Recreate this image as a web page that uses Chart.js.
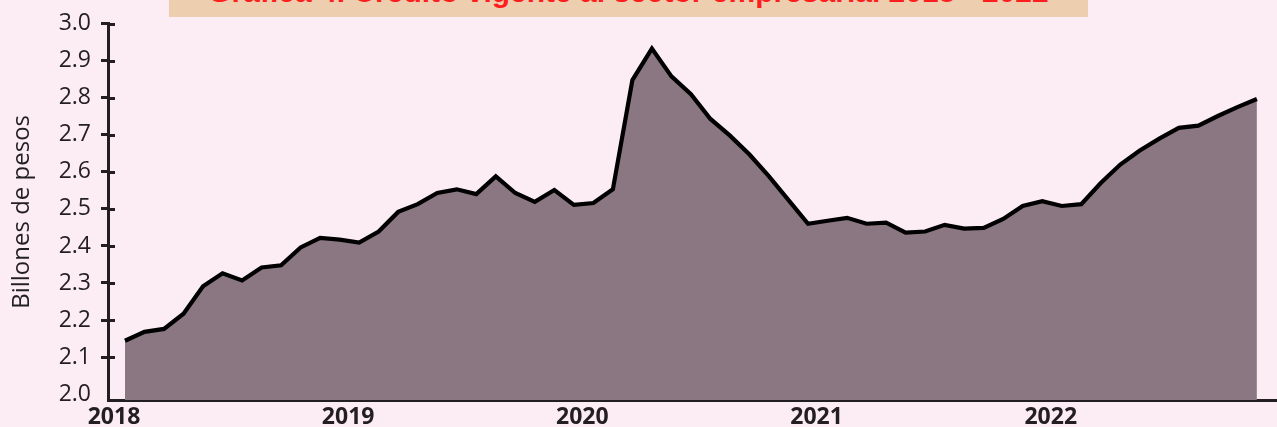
<!DOCTYPE html>
<html lang="es">
<head>
<meta charset="utf-8">
<title>Crédito vigente al sector empresarial 2018 - 2022</title>
<script src="https://cdn.jsdelivr.net/npm/chart.js@4/dist/chart.umd.min.js"></script>
<style>
  html, body { margin: 0; padding: 0; background: #fcedf4; overflow: hidden; }
  #wrap { position: relative; width: 1277px; height: 427px; overflow: hidden; background: #fcedf4; }
  #titleBox { position: absolute; left: 169px; top: 0; width: 919px; height: 17px; background: #edcfb0; }
  #title { position: absolute; left: 169px; top: -25px; width: 919px; height: 30px; line-height: 30px;
           font: bold 30px "Liberation Sans", Arial, sans-serif; color: #fe1e1e; text-align: center; white-space: nowrap; }
  #c { position: absolute; left: 0; top: 0; }
</style>
</head>
<body>
<div id="wrap">
  <div id="titleBox"></div>
  <div id="title">Gráfica 4. Crédito vigente al sector empresarial 2018 - 2022</div>
  <canvas id="c" width="1277" height="440"></canvas>
</div>
<script>
// ---- data (billones de pesos), monthly from January 2018 ----
const years = ['2018', '2019', '2020', '2021', '2022'];
const credit = [
  2.144, 2.168, 2.176, 2.217, 2.291, 2.326, 2.307, 2.342, 2.348, 2.396, 2.422, 2.417,
  2.409, 2.439, 2.492, 2.513, 2.543, 2.553, 2.540, 2.588, 2.543, 2.519, 2.551, 2.511,
  2.516, 2.553, 2.848, 2.933, 2.858, 2.810, 2.743, 2.698, 2.647, 2.588, 2.524, 2.460,
  2.468, 2.476, 2.460, 2.463, 2.436, 2.439, 2.457, 2.447, 2.449, 2.473, 2.508, 2.521,
  2.508, 2.513, 2.570, 2.620, 2.658, 2.690, 2.719, 2.725, 2.751, 2.775, 2.797
];
const monthCodes = ['01','02','03','04','05','06','07','08','09','10','11','12'];
const months = years.flatMap(y => monthCodes.map(m => y + '-' + m)).slice(0, credit.length);
const yTickValues = [2.0, 2.1, 2.2, 2.3, 2.4, 2.5, 2.6, 2.7, 2.8, 2.9, 3.0];

const DARK = '#231f20';

const innerTicks = {
  id: 'innerTicks',
  afterDraw(chart) {
    const ys = chart.scales.y;
    const ctx = chart.ctx;
    ctx.save();
    ctx.strokeStyle = DARK;
    ctx.lineWidth = 3;
    ys.ticks.forEach(t => {
      if (t.value < 2.05) return;
      const py = Math.round(ys.getPixelForValue(t.value)) + 0.5;
      ctx.beginPath();
      ctx.moveTo(ys.right, py);
      ctx.lineTo(ys.right + 7, py);
      ctx.stroke();
    });
    ctx.restore();
  }
};

new Chart(document.getElementById('c'), {
  type: 'line',
  data: {
    datasets: [{
      label: 'Crédito vigente',
      data: credit.map((v, i) => ({ x: i, y: v })),
      borderColor: '#000000',
      borderWidth: 4.2,
      borderJoinStyle: 'miter',
      backgroundColor: '#8a7781',
      fill: 'start',
      pointRadius: 0,
      tension: 0
    }]
  },
  options: {
    responsive: false,
    animation: false,
    layout: { padding: { top: 20, left: 0, right: 0, bottom: 0 } },
    plugins: { legend: { display: false }, tooltip: { enabled: false }, title: { display: false } },
    scales: {
      x: {
        type: 'linear',
        min: -0.87,
        max: 59.03,
        afterBuildTicks(axis) {
          axis.ticks = months.map((m, i) => ({ value: i, m })).filter(t => t.m.endsWith('-01')).map(t => ({ value: t.value }));
        },
        afterFit(axis) { axis.height = 40; },
        grid: { display: true, drawOnChartArea: false, drawTicks: false },
        border: { display: true, color: DARK, width: 3 },
        ticks: {
          autoSkip: false,
          maxRotation: 0,
          padding: 4,
          labelOffset: -11,
          color: DARK,
          font: { family: '"Open Sans", sans-serif', size: 23, weight: 'bold' },
          callback: (v) => months[v] ? months[v].slice(0, 4) : ''
        }
      },
      y: {
        min: 1.984,
        max: 3.0,
        afterBuildTicks(axis) {
          axis.ticks = yTickValues.map(v => ({ value: v }));
        },
        afterFit(axis) { axis.width = 108; },
        grid: {
          display: true,
          drawOnChartArea: false,
          drawTicks: true,
          tickLength: 7,
          tickWidth: 3,
          tickColor: (ctx) => (ctx.tick && ctx.tick.value < 2.05) ? 'rgba(0,0,0,0)' : DARK
        },
        border: { display: true, color: DARK, width: 3 },
        ticks: {
          padding: 10,
          color: DARK,
          font: { family: '"Open Sans", sans-serif', size: 23 },
          callback: (v) => Number(v).toFixed(1)
        },
        title: {
          display: true,
          text: 'Billones de pesos',
          color: DARK,
          padding: { top: 8, bottom: 0 },
          font: { family: '"Open Sans", sans-serif', size: 24 }
        }
      }
    }
  },
  plugins: [innerTicks]
});
</script>
</body>
</html>
